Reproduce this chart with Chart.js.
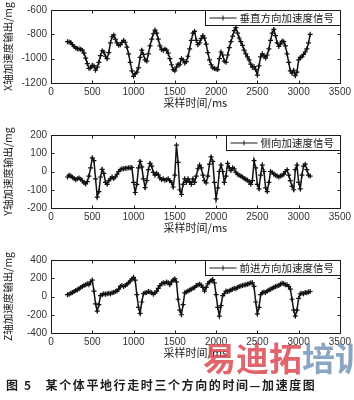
<!DOCTYPE html>
<html>
<head>
<meta charset="utf-8">
<script src="https://cdn.jsdelivr.net/npm/chart.js@4.4.1/dist/chart.umd.min.js"></script>
<style>
  body { margin: 0; background: #fff; width: 354px; height: 400px; position: relative; overflow: hidden; }
  .panel { position: absolute; left: 0; width: 354px; height: 125px; }
  canvas { display: block; }
  #mark { position: absolute; left: 203px; top: 333px; font: bold 33px "Noto Sans CJK SC"; white-space: nowrap; opacity: 0.8; }
  #mark .r { color: #d9404a; }
  #mark .b { color: #6f8fb5; }
  #caption { position: absolute; left: 6px; top: 376px; font: bold 12px "Noto Sans CJK SC"; color: #1e1e1e; white-space: nowrap; letter-spacing: 1.6px; }
</style>
</head>
<body>
<div class="panel" style="top:0"><canvas id="chartX" width="354" height="125"></canvas></div>
<div class="panel" style="top:125px"><canvas id="chartY" width="354" height="125"></canvas></div>
<div class="panel" style="top:250px"><canvas id="chartZ" width="354" height="125"></canvas></div>
<div id="mark"><span class="r">易迪拓</span><span class="b">培训</span></div>
<div id="caption">图 5&nbsp;&nbsp;&nbsp;某个体平地行走时三个方向的时间—加速度图</div>
<script>
// sample times (ms)
const times = [
  200, 220, 240, 260, 280, 300, 320, 340, 360, 380,
  400, 420, 440, 460, 480, 500, 520, 540, 560, 580,
  600, 620, 640, 660, 680, 700, 720, 740, 760, 780,
  800, 820, 840, 860, 880, 900, 920, 940, 960, 980,
  1000, 1020, 1040, 1060, 1080, 1100, 1120, 1140, 1160, 1180,
  1200, 1220, 1240, 1260, 1280, 1300, 1320, 1340, 1360, 1380,
  1400, 1420, 1440, 1460, 1480, 1500, 1520, 1540, 1560, 1580,
  1600, 1620, 1640, 1660, 1680, 1700, 1720, 1740, 1760, 1780,
  1800, 1820, 1840, 1860, 1880, 1900, 1920, 1940, 1960, 1980,
  2000, 2020, 2040, 2060, 2080, 2100, 2120, 2140, 2160, 2180,
  2200, 2220, 2240, 2260, 2280, 2300, 2320, 2340, 2360, 2380,
  2400, 2420, 2440, 2460, 2480, 2500, 2520, 2540, 2560, 2580,
  2600, 2620, 2640, 2660, 2680, 2700, 2720, 2740, 2760, 2780,
  2800, 2820, 2840, 2860, 2880, 2900, 2920, 2940, 2960, 2980,
  3000, 3020, 3040, 3060, 3080, 3100, 3120, 3140
];

// vertical (X axis) acceleration, mg
const vertical = [
  -860, -862, -868, -885, -900, -912, -918, -920, -922, -930,
  -955, -995, -1040, -1080, -1075, -1055, -1060, -1095, -1070, -1030,
  -975, -935, -945, -980, -1000, -950, -870, -820, -805, -840,
  -870, -890, -885, -865, -850, -865, -905, -960, -1030, -1100,
  -1145, -1125, -1110, -1075, -990, -930, -965, -1010, -1020, -960,
  -895, -840, -795, -765, -790, -840, -895, -925, -930, -920,
  -930, -955, -1000, -1050, -1090, -1100, -1070, -1045, -1050, -1000,
  -1010, -1035, -1025, -980, -920, -850, -790, -775, -850, -885,
  -870, -835, -810, -830, -880, -950, -1010, -1050, -1075, -1080,
  -1085, -1090, -1000, -945, -970, -1020, -1030, -970, -910, -860,
  -815, -770, -745, -790, -830, -860, -890, -930, -960, -985,
  -1010, -1045, -1070, -1065, -1090, -1135, -1060, -985, -960, -975,
  -995, -970, -920, -850, -790, -760, -810, -870, -900, -880,
  -855, -860, -895, -960, -1030, -1100, -1120, -1095, -1140, -1110,
  -1010, -990, -985, -965, -945, -920, -870, -800
];

// lateral (Y axis) acceleration, mg
const lateral = [
  -30, -20, -25, -32, -38, -45, -40, -35, -42, -50,
  -62, -68, -55, -25, 20, 75, 60, -40, -140, -110,
  -30, 12, -10, -60, -70, -50, -40, -30, -38, -30,
  -15, 0, 10, 15, 15, 18, 18, 20, 20, 22,
  -60, -115, -70, 20, 55, 25, -40, -88, -50, 10,
  45, 30, -5, -20, -10, -18, -35, -45, -40, -48,
  -45, -40, -50, -60, -85, -20, 145, 50, -100, -125,
  -70, -40, -60, -40, -55, -70, -40, -60, -25, 15,
  35, 20, -20, -50, -62, -25, 40, 80, 55, -60,
  -150, -90, 0, 35, 0, -60, -25, 45, 20, 5,
  20, 15, -5, -15, -20, -25, -30, -38, -42, -48,
  -55, -70, -50, 60, 20, -70, -95, -20, 35, 0,
  -90, -110, -60, 0, -5, -15, -20, -25, -30, -25,
  -20, -15, 0, 10, -20, -50, -80, -100, 10, 35,
  -60, -95, -20, 30, 40, 10, -20, -25
];

// forward (Z axis) acceleration, mg
const forward = [
  20, 25, 35, 45, 55, 65, 75, 85, 100, 110,
  120, 130, 140, 130, 160, 180, 60, -80, -160, -90,
  10, 20, 30, 25, 30, 35, 30, 40, 45, 55,
  60, 80, 110, 120, 110, 120, 135, 150, 170, 190,
  210, 180, 20, -120, -185, -60, 30, 40, 45, 55,
  50, 40, 25, 40, 60, 90, 120, 140, 150, 145,
  160, 150, 130, 160, 180, 195, 160, -30, -150, -200,
  -90, 40, 50, 60, 70, 80, 90, 100, 120, 125,
  135, 125, 100, 60, 100, 140, 160, 175, 185, 150,
  20, -120, -215, -100, 10, 30, 60, 55, 60, 70,
  80, 90, 85, 100, 110, 115, 120, 125, 130, 135,
  140, 150, 150, 110, -60, -190, -120, 20, 40, 50,
  45, 60, 70, 80, 90, 100, 110, 115, 120, 135,
  145, 140, 130, 130, 110, 80, -30, -150, -215, -150,
  -20, 30, 35, 30, 45, 40, 50, 55
];

const xTitle = '采样时间/ms';
const tickFont = { family: '"Liberation Sans Narrow", "Liberation Sans", Arial, sans-serif', size: 10 };
const cjkFont = '"Noto Sans CJK SC", "Noto Sans", sans-serif';

// box, inward ticks and the legend inside the plot
const framePlugin = {
  id: 'frame',
  afterDraw(chart, args, opts) {
    const { ctx, chartArea: a, scales: { x, y } } = chart;
    const L = Math.round(a.left) + 0.5, R = Math.round(a.right) + 0.5;
    const T = Math.round(a.top) + 0.5, B = Math.round(a.bottom) + 0.5;
    ctx.save();
    ctx.strokeStyle = '#1a1a1a';
    ctx.lineWidth = 1;
    ctx.strokeRect(L, T, R - L, B - T);
    ctx.beginPath();
    x.ticks.forEach(t => {
      const p = Math.round(x.getPixelForValue(t.value)) + 0.5;
      ctx.moveTo(p, B); ctx.lineTo(p, B - 3);
      ctx.moveTo(p, T); ctx.lineTo(p, T + 3);
    });
    y.ticks.forEach(t => {
      const p = Math.round(y.getPixelForValue(t.value)) + 0.5;
      ctx.moveTo(L, p); ctx.lineTo(L + 3, p);
      ctx.moveTo(R, p); ctx.lineTo(R - 3, p);
    });
    ctx.stroke();

    // legend
    ctx.font = '10.5px ' + cjkFont;
    const tw = ctx.measureText(opts.text).width;
    const w = 3 + 28 + 3 + tw + 7, h = 15;
    const bx = Math.round(R - w) + 0.5;
    ctx.fillStyle = '#fff';
    ctx.fillRect(bx, T, R - bx, h);
    ctx.strokeRect(bx, T, R - bx, h);
    const ly = T + h / 2;
    ctx.beginPath();
    ctx.moveTo(bx + 4, ly); ctx.lineTo(bx + 31, ly);
    ctx.moveTo(bx + 17.5, ly - 2.5); ctx.lineTo(bx + 17.5, ly + 2.5);
    ctx.stroke();
    ctx.fillStyle = '#1a1a1a';
    ctx.textBaseline = 'middle';
    ctx.fillText(opts.text, bx + 34, ly + 0.5);
    ctx.restore();
  }
};

function makeChart(id, values, yMin, yMax, yStep, yTitle, legendText, padTop) {
  return new Chart(document.getElementById(id), {
    type: 'line',
    data: {
      labels: times,
      datasets: [{
        data: times.map((t, i) => ({ x: t, y: values[i] })),
        borderColor: '#111',
        borderWidth: 1.5,
        pointStyle: 'cross',
        pointRadius: 2.5,
        pointBorderWidth: 1.2,
        pointBorderColor: '#111',
        tension: 0
      }]
    },
    options: {
      responsive: false,
      animation: false,
      devicePixelRatio: 1,
      layout: { padding: { top: padTop, right: 13, left: 0, bottom: 0 } },
      plugins: {
        legend: { display: false },
        tooltip: { enabled: false },
        frame: { text: legendText }
      },
      scales: {
        x: {
          type: 'linear',
          min: 0,
          max: 3500,
          grid: { display: false, drawTicks: false },
          border: { display: false },
          ticks: { stepSize: 500, font: tickFont, color: '#333', padding: 3, maxRotation: 0, callback: v => String(v) },
          title: { display: true, text: xTitle, font: { family: cjkFont, size: 11 }, color: '#222', padding: { top: 0, bottom: 16 } },
          afterFit: s => { s.height = 42; }
        },
        y: {
          min: yMin,
          max: yMax,
          grid: { display: false, drawTicks: false },
          border: { display: false },
          ticks: { stepSize: yStep, font: tickFont, color: '#333', padding: 4, callback: v => String(v) },
          title: { display: true, text: yTitle, font: { family: cjkFont, size: 10.5 }, color: '#222', padding: { top: 2, bottom: 0 } },
          afterFit: s => { s.width = 51; }
        }
      }
    },
    plugins: [framePlugin]
  });
}

makeChart('chartX', vertical, -1200, -600, 200, 'X轴加速度输出/mg', '垂直方向加速度信号', 7);
makeChart('chartY', lateral, -200, 200, 100, 'Y轴加速度输出/mg', '侧向加速度信号', 7);
makeChart('chartZ', forward, -400, 400, 200, 'Z轴加速度输出/mg', '前进方向加速度信号', 6);
</script>
</body>
</html>
